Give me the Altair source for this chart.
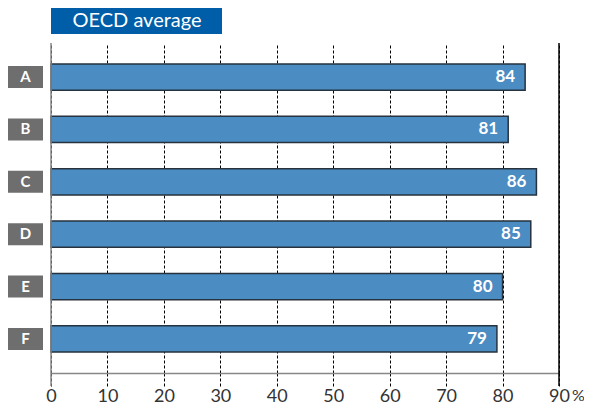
import altair as alt
import pandas as pd

categories = ["A", "B", "C", "D", "E", "F"]
values = [84, 81, 86, 85, 80, 79]
title_text = "OECD average"
x_ticks = [0, 10, 20, 30, 40, 50, 60, 70, 80, 90]

df = pd.DataFrame({"cat": categories, "val": values})

W, H = 508, 330
FONT = "Lato"

yscale = alt.Scale(domain=categories, paddingInner=0.5, paddingOuter=0.4)
xscale = alt.Scale(domain=[0, 90], nice=False)

base = alt.Chart(df)

bars = base.mark_bar(color="#4b8cc3", stroke="#26323e", strokeWidth=1.5).encode(
    x=alt.X("val:Q", scale=xscale, title=None,
            axis=alt.Axis(values=x_ticks, grid=True, gridDash=[3, 2], gridColor="#000000",
                          gridOpacity=1, gridWidth=1, tickDash=[3, 2], tickColor="#000000",
                          tickSize=13, domainColor="#888888", domainWidth=1.5,
                          labelFont=FONT, labelFontSize=18, labelColor="#333333",
                          labelPadding=1, labelFlush=False, labelOverlap=False)),
    y=alt.Y("cat:N", scale=yscale, axis=None),
)

vals = base.mark_text(align="right", baseline="middle", dx=-10, color="white",
                      font=FONT, fontSize=17, fontWeight="bold").encode(
    x="val:Q", y="cat:N", text="val:Q")

cat_box = base.mark_bar(color="#6e6e6e", height=22).encode(
    x=alt.value(-43), x2=alt.value(-8), y="cat:N")

cat_txt = base.mark_text(align="center", baseline="middle", color="white",
                         font=FONT, fontSize=15, fontWeight="bold").encode(
    x=alt.value(-25.5), y="cat:N", text="cat:N")

edge_df = pd.DataFrame({"x": [0, 90], "c": ["#888888", "#000000"]})
edges = alt.Chart(edge_df).mark_rule(strokeWidth=1.5).encode(
    x="x:Q", y=alt.value(0), y2=alt.value(H + 13),
    color=alt.Color("c:N", scale=None))

pct = alt.Chart(pd.DataFrame({"x": [90], "t": ["%"]})).mark_text(
    align="left", baseline="top", dx=13, dy=1, font=FONT, fontSize=16, color="#333333").encode(
    x="x:Q", y=alt.value(H + 14), text="t:N")

title_df = pd.DataFrame({"t": [title_text]})
title_box = alt.Chart(title_df).mark_rect(color="#005ea8").encode(
    x=alt.value(0), x2=alt.value(171), y=alt.value(-35), y2=alt.value(-9))
title_txt = alt.Chart(title_df).mark_text(align="center", baseline="middle", color="white",
                                          font=FONT, fontSize=20).encode(
    x=alt.value(86), y=alt.value(-22), text="t:N")

chart = alt.layer(bars, vals, cat_box, cat_txt, edges, pct, title_box, title_txt).properties(
    width=W, height=H,
    autosize=alt.AutoSizeParams(type="none"),
    padding={"left": 43, "top": 35, "right": 25, "bottom": 33},
    background="white",
).configure_view(stroke=None)

chart.save("out.html", embed_options={"renderer": "svg", "actions": False})
